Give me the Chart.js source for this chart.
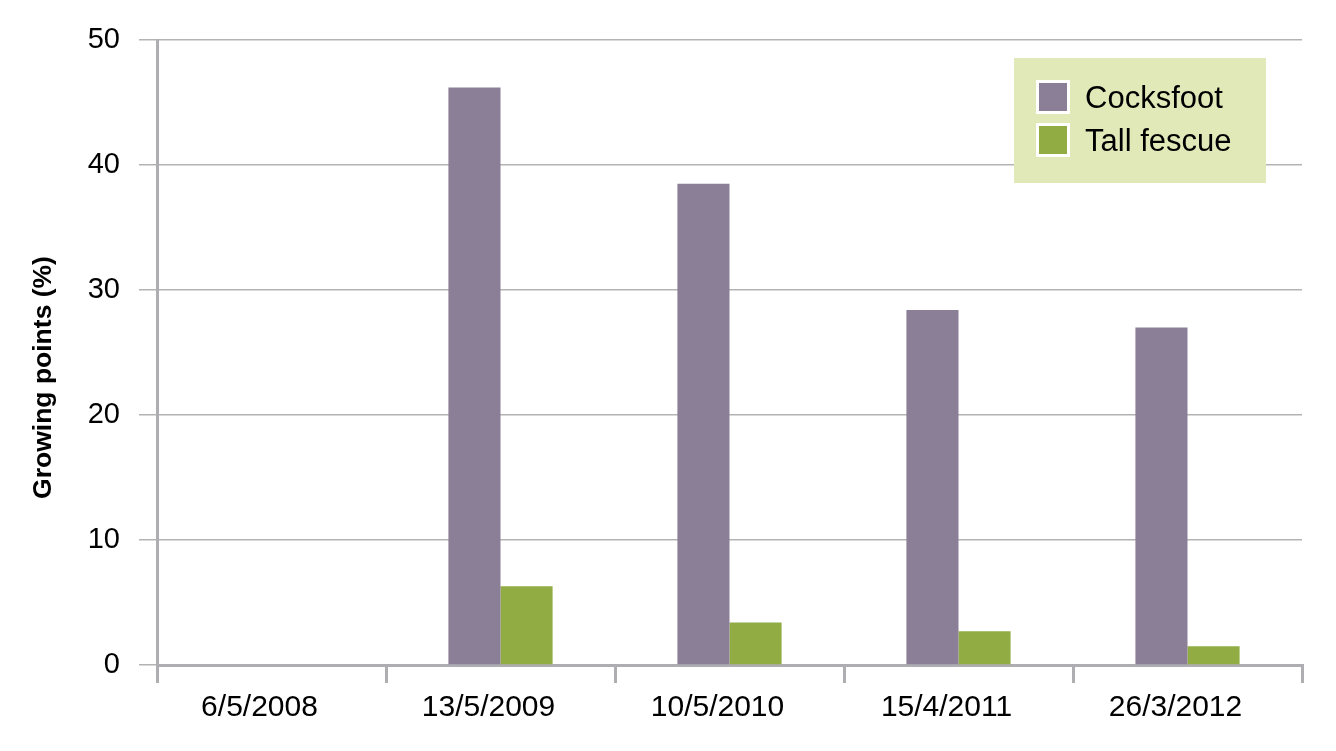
<!DOCTYPE html>
<html>
<head>
<meta charset="utf-8">
<script src="https://cdn.jsdelivr.net/npm/chart.js@4.4.1/dist/chart.umd.min.js"></script>
<style>
  html, body { margin: 0; padding: 0; background: #fff; }
</style>
</head>
<body>
<canvas id="myChart" width="1336" height="751"></canvas>
<script>
const categories = ['6/5/2008', '13/5/2009', '10/5/2010', '15/4/2011', '26/3/2012'];
const cocksfoot = [0, 46.2, 38.5, 28.4, 27.0];
const tallFescue = [0, 6.3, 3.4, 2.7, 1.5];
const yTicks = [0, 10, 20, 30, 40, 50];
const yTitle = 'Growing points (%)';

const axisGrey = '#aeaeb2';
const fontName = '"Liberation Sans", Arial, Helvetica, sans-serif';

// legend box drawn on top of the plot, like the original
const boxLegend = {
  id: 'boxLegend',
  afterDraw(chart) {
    const ctx = chart.ctx;
    ctx.save();
    ctx.fillStyle = '#e1e9b8';
    ctx.fillRect(1014, 58, 252, 125);
    chart.data.datasets.forEach((ds, i) => {
      const y = 81 + i * 43;
      ctx.fillStyle = '#ffffff';
      ctx.fillRect(1036, y - 1, 34, 34);
      ctx.fillStyle = ds.backgroundColor;
      ctx.fillRect(1039, y + 2, 28, 28);
      ctx.fillStyle = '#000';
      ctx.font = '31px ' + fontName;
      ctx.textBaseline = 'middle';
      ctx.fillText(ds.label, 1085, y + 18);
    });
    ctx.restore();
  }
};

// y axis title sits a bit below the middle in the original
const sideTitle = {
  id: 'sideTitle',
  afterDraw(chart) {
    const ctx = chart.ctx;
    const area = chart.chartArea;
    ctx.save();
    ctx.translate(44, (area.top + area.bottom) / 2 + 25);
    ctx.rotate(-Math.PI / 2);
    ctx.fillStyle = '#000';
    ctx.font = 'bold 26.5px ' + fontName;
    ctx.textAlign = 'center';
    ctx.textBaseline = 'middle';
    ctx.fillText(yTitle, 0, 0);
    ctx.restore();
  }
};

const config = {
  type: 'bar',
  data: {
    labels: categories,
    datasets: [{
      label: 'Cocksfoot',
      data: cocksfoot,
      backgroundColor: '#8b7e97',
      borderWidth: 0
    }, {
      label: 'Tall fescue',
      data: tallFescue,
      backgroundColor: '#90ac42',
      borderWidth: 0
    }]
  },
  options: {
    responsive: false,
    animation: false,
    categoryPercentage: 0.455,
    barPercentage: 1,
    layout: { padding: { top: 40, right: 34, left: 0, bottom: 0 } },
    plugins: {
      legend: { display: false },
      tooltip: { enabled: false }
    },
    scales: {
      x: {
        grid: {
          offset: true,
          drawOnChartArea: false,
          drawTicks: true,
          tickLength: 18,
          color: axisGrey,
          lineWidth: 3
        },
        border: { color: axisGrey, width: 3 },
        ticks: {
          color: '#000',
          font: { family: fontName, size: 30 },
          padding: 7,
          labelOffset: -12,
          maxRotation: 0
        },
        afterFit(scale) { scale.height = 86; }
      },
      y: {
        min: 0,
        max: 50,
        afterBuildTicks(scale) { scale.ticks = yTicks.map(v => ({ value: v })); },
        grid: {
          color: '#b3b3b6',
          lineWidth: 1.5,
          tickLength: 18
        },
        border: { color: axisGrey, width: 3 },
        ticks: {
          color: '#000',
          font: { family: fontName, size: 29 },
          padding: 19
        },
        afterFit(scale) { scale.width = 157; }
      }
    }
  },
  plugins: [boxLegend, sideTitle]
};

var ctx = document.getElementById('myChart').getContext('2d');
var chart = new Chart(ctx, config);
</script>
</body>
</html>
